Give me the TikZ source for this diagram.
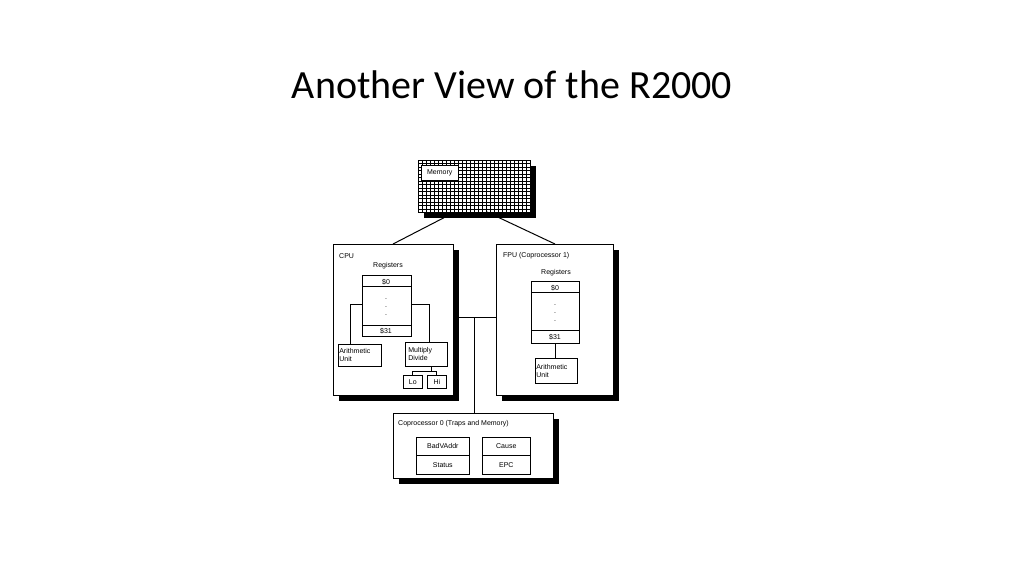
\documentclass[tikz,border=0pt]{standalone}
\usepackage{fontspec}
\setmainfont{Liberation Sans}
\newfontfamily\titlefont{Carlito}
\begin{document}
\begin{tikzpicture}[x=1pt,y=-1pt,
  box/.style={draw,fill=white,line width=0.6pt},
  shad/.style={fill=black},
  lbl/.style={font=\fontsize{7}{8}\selectfont,inner sep=0pt},
  conn/.style={line width=1pt}]
\useasboundingbox (0,0) rectangle (1024,576);
\node[font=\titlefont\fontsize{40}{44}\selectfont] (title) at (512,85) {Another View of the R2000};
% memory
\fill[shad] (424,166) rectangle (536,218);
\fill[white] (418,160) rectangle (530,212);
\begin{scope}
\clip (418,160) rectangle (530,212);
\foreach \x in {418,422,...,530} \draw[line width=0.5pt] (\x,160) -- (\x,212);
\foreach \y in {160,163.5,...,212} \draw[line width=0.5pt] (418,\y) -- (530,\y);
\end{scope}
\draw (418,160) rectangle (530,212);
\node[box,lbl,minimum width=37,minimum height=15,anchor=north west] (mem) at (421,165) {Memory};
\coordinate (m1) at (455,212); \coordinate (m2) at (487,212);
% CPU
\fill[shad] (339,250) rectangle (459,401);
\node[box,anchor=north west,minimum width=120,minimum height=151,inner sep=0] (cpu) at (333,244) {};
\node[lbl,anchor=west] at (339,256) {CPU};
\node[lbl] at (388,266) {Registers};
\node[box,anchor=north west,minimum width=49,minimum height=61,inner sep=0] (creg) at (362,275) {};
\draw (362,286) -- (411,286); \draw (362,325) -- (411,325);
\node[lbl] at (386,282) {\$0};
\foreach \y in {299,307,315} \node[lbl] at (386,\y) {.};
\node[lbl] at (386,331) {\$31};
\node[box,lbl,anchor=north west,minimum width=43,minimum height=22,align=left,text width=41] (au) at (338,344) {Arithmetic\\Unit};
\node[box,lbl,anchor=north west,minimum width=42,minimum height=24,align=left,text width=36] (md) at (405,342) {Multiply\\Divide};
\node[box,lbl,anchor=north west,minimum width=19,minimum height=13] (lo) at (403,375) {Lo};
\node[box,lbl,anchor=north west,minimum width=19,minimum height=13] (hi) at (427,375) {Hi};
\draw[conn] (creg.west |- 0,304) -| (au.north -| 350,0);
\draw[conn] (creg.east |- 0,304) -| (md.north -| 429,0);
\draw[conn] (md.south -| 431,0) -- (431,371) -| (lo.north);
\draw[conn] (431,371) -| (hi.north);
% FPU
\fill[shad] (502,250) rectangle (619,401);
\node[box,anchor=north west,minimum width=117,minimum height=151,inner sep=0] (fpu) at (496,244) {};
\node[lbl,anchor=west] at (503,256) {FPU (Coprocessor 1)};
\node[lbl] at (556,273) {Registers};
\node[box,anchor=north west,minimum width=48,minimum height=62,inner sep=0] (freg) at (531,281) {};
\draw (531,292) -- (579,292); \draw (531,330) -- (579,330);
\node[lbl] at (555,288) {\$0};
\foreach \y in {305,313,321} \node[lbl] at (555,\y) {.};
\node[lbl] at (555,337) {\$31};
\node[box,lbl,anchor=north west,minimum width=42,minimum height=25,align=left,text width=40] (fau) at (535,358) {Arithmetic\\Unit};
\draw[conn] (freg.south) -- (fau.north -| freg.south);
% memory links
\draw[conn] (m1) -- (cpu.north -| 393,0);
\draw[conn] (m2) -- (fpu.north -| 555,0);
% Coprocessor 0
\fill[shad] (399,419) rectangle (559,484);
\node[box,anchor=north west,minimum width=160,minimum height=65,inner sep=0] (cp0) at (393,413) {};
\node[lbl,anchor=west] at (398,424) {Coprocessor 0 (Traps and Memory)};
\node[box,lbl,anchor=north west,minimum width=53,minimum height=18] (bva) at (416,437) {BadVAddr};
\node[box,lbl,anchor=north west,minimum width=53,minimum height=19] (st) at (416,455) {Status};
\node[box,lbl,anchor=north west,minimum width=48,minimum height=18] (cause) at (482,437) {Cause};
\node[box,lbl,anchor=north west,minimum width=48,minimum height=19] (epc) at (482,455) {EPC};
% bus
\coordinate (bj) at (474,317);
\draw[conn] (cpu.east |- bj) -- (fpu.west |- bj);
\draw[conn] (bj) -- (cp0.north -| bj);
\end{tikzpicture}
\end{document}
